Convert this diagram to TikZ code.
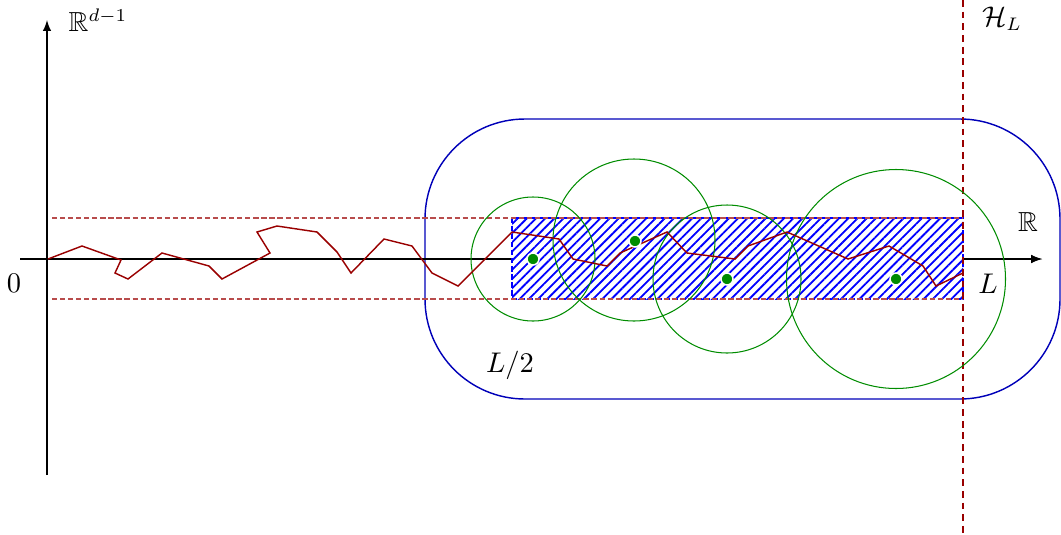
\documentclass[tikz,border=0pt]{standalone}
\usepackage{amssymb}
\usetikzlibrary{patterns.meta,arrows}
\definecolor{pathred}{rgb}{0.6,0,0}
\definecolor{ballgreen}{rgb}{0,0.55,0}
\definecolor{boxblue}{rgb}{0,0,0.72}
\tikzset{
  axis/.style={line width=0.45pt,-latex},
  band/.style={pathred!70,line width=0.4pt,dash pattern=on 2pt off 1.1pt},
  hyper/.style={pathred,line width=0.55pt,dash pattern=on 2.6pt off 1.9pt},
  ball/.style={ballgreen,line width=0.4pt},
  centre/.style={circle,fill=ballgreen,draw=white,line width=0.6pt,inner sep=0pt,minimum size=4.6pt},
  walk/.style={pathred,line width=0.55pt,line join=miter},
  lab/.style={inner sep=0pt,font=\fontsize{10.6pt}{12pt}\selectfont}
}
\begin{document}
\begin{tikzpicture}[x=0.385pt,y=-0.385pt]
\useasboundingbox (0,0) rectangle (1061,534);
% rounded region
\draw[boxblue,line width=0.55pt,rounded corners=38.5pt] (425,119) rectangle (1060,399);
% axes
\coordinate (xs) at (20,259);
\coordinate (xe) at (1042,259);
\coordinate (ys) at (47,475);
\coordinate (ye) at (47,20);
\draw[axis] (xs) -- (xe);
\draw[axis] (ys) -- (ye);
% hatched box
\fill[white] (512,218) rectangle (963,299);
\fill[pattern={Lines[angle=45,distance=2.5pt,line width=0.7pt]},pattern color=blue] (512,218) rectangle (963,299);
\draw[blue,line width=0.45pt,dash pattern=on 2pt off 1.1pt] (512,218) rectangle (963,299);
\draw[axis] (963,259) -- (xe);
% band lines
\draw[band] (52,218) -- (963,218);
\draw[band] (52,299) -- (963,299);
% hyperplane
\draw[hyper] (963,0) -- (963,534);
% balls
\draw[ball] (533,259) circle (62);
\draw[ball] (634,240) circle (81);
\draw[ball] (727,279) circle (74);
\draw[ball] (896,279) circle (109.5);
% random walk
\draw[walk] (48,259) -- (82,246) -- (121,260) -- (115,273) -- (128,279) -- (162,253) -- (209,266) -- (222,279) -- (270,253) -- (257,232) -- (277,226) -- (317,232) -- (337,252) -- (351,273) -- (384,239) -- (412,246) -- (432,273) -- (458,286) -- (512,232) -- (559,239) -- (573,259) -- (607,266) -- (620,253) -- (667,232) -- (687,253) -- (735,259) -- (748,246) -- (787,232) -- (848,259) -- (889,246) -- (923,266) -- (936,286) -- (963,273);
% centres
\node[centre] (c1) at (533,259) {};
\node[centre] (c2) at (635,241) {};
\node[centre] (c3) at (727,279) {};
\node[centre] (c4) at (896,279) {};
% labels
\node[lab] (ry) at (98,20) {$\mathbb{R}^{d-1}$};
\node[lab] (hl) at (1002,19) {$\mathcal{H}_L$};
\node[lab] (rx) at (1028,222) {$\mathbb{R}$};
\node[lab] (ll) at (988,284) {$L$};
\node[lab] (zero) at (14,283) {$0$};
\node[lab] (lhalf) at (510,365) {$L/2$};
\end{tikzpicture}
\end{document}
